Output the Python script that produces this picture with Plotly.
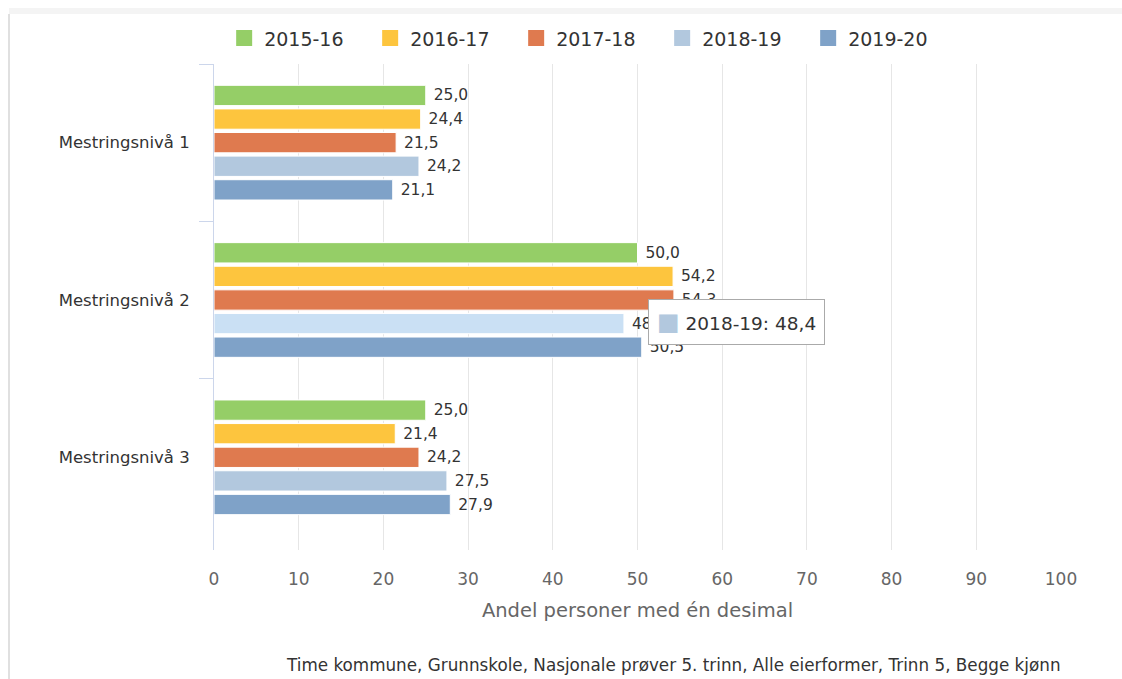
import plotly.graph_objects as go

categories = ["Mestringsnivå 1", "Mestringsnivå 2", "Mestringsnivå 3"]
series_names = ["2015-16", "2016-17", "2017-18", "2018-19", "2019-20"]
v_2015_16 = [25.0, 50.0, 25.0]
v_2016_17 = [24.4, 54.2, 21.4]
v_2017_18 = [21.5, 54.3, 24.2]
v_2018_19 = [24.2, 48.4, 27.5]
v_2019_20 = [21.1, 50.5, 27.9]
series_values = [v_2015_16, v_2016_17, v_2017_18, v_2018_19, v_2019_20]
x_ticks = [0, 10, 20, 30, 40, 50, 60, 70, 80, 90, 100]

colors = ["#95ce67", "#fdc53e", "#df7a4f", "#b2c8de", "#7fa2c8"]
hover_color = "#cae0f4"

FONT = "DejaVu Sans"

def fmt(v):
    return f"{v:.1f}".replace(".", ",")

fig = go.Figure()
for i, (name, vals) in enumerate(zip(series_names, series_values)):
    mc = [colors[i]] * len(vals)
    if name == "2018-19":
        mc[1] = hover_color
    fig.add_trace(go.Bar(
        name=name,
        y=categories,
        x=vals,
        orientation="h",
        marker=dict(color=mc, line=dict(color="#ffffff", width=1)),
        text=["\u00a0" + fmt(v) for v in vals],
        textposition="outside",
        cliponaxis=False,
        textfont=dict(family=FONT, size=15.5, color="#333333"),
        legendgroup=name,
        showlegend=False,
    ))

# legend entries with larger square symbols
for i, name in enumerate(series_names):
    fig.add_trace(go.Scatter(
        name=name, x=[None], y=[None], mode="markers",
        marker=dict(symbol="square", size=18, color=colors[i]),
        legendgroup=name, showlegend=True, hoverinfo="skip",
    ))

# tooltip as seen in the reference
fig.add_annotation(
    x=v_2018_19[1], y=categories[1], xref="x", yref="y",
    text="<span style='color:#b2c8de;font-size:24px'>■</span> 2018-19: " + fmt(v_2018_19[1]),
    showarrow=False, xanchor="left", yanchor="middle",
    xshift=24, yshift=-22,
    font=dict(family=FONT, size=18.5, color="#333333"),
    bgcolor="#ffffff", bordercolor="#aaaaaa", borderwidth=1, borderpad=8,
)

fig.add_annotation(
    text="Time kommune, Grunnskole, Nasjonale prøver 5. trinn, Alle eierformer, Trinn 5, Begge kjønn",
    xref="paper", yref="paper", x=0.543, y=-0.237, showarrow=False,
    xanchor="center", yanchor="middle",
    font=dict(family=FONT, size=16.8, color="#333333"),
)

# page frame pieces
fig.add_shape(type="rect", xref="paper", yref="paper",
              x0=-0.242, x1=1.08, y0=1.103, y1=1.115, fillcolor="#f4f4f4",
              line=dict(width=0), layer="below")
fig.add_shape(type="line", xref="paper", yref="paper",
              x0=-0.242, x1=-0.242, y0=-0.27, y1=1.103,
              line=dict(color="#e0e0e0", width=2))

fig.update_layout(
    width=1122, height=679,
    margin=dict(l=214, r=61, t=64, b=129, autoexpand=False),
    paper_bgcolor="#ffffff",
    plot_bgcolor="#ffffff",
    barmode="group",
    bargap=0.25,
    bargroupgap=0.14,
    showlegend=True,
    legend=dict(
        orientation="h", x=0.012, xanchor="left", y=1.053, yanchor="middle",
        font=dict(family=FONT, size=19, color="#333333"),
        entrywidth=101, entrywidthmode="pixels",
        itemwidth=30, itemsizing="trace", traceorder="normal",
        bgcolor="rgba(0,0,0,0)",
    ),
    font=dict(family=FONT, color="#333333"),
    xaxis=dict(
        range=[0, 100], tickvals=x_ticks, ticktext=[str(t) for t in x_ticks],
        showgrid=True, gridcolor="#e6e6e6", gridwidth=1,
        zeroline=False, showline=False,
        tickfont=dict(family=FONT, size=17, color="#666666"),
        title=dict(text="Andel personer med én desimal",
                   font=dict(family=FONT, size=19.5, color="#666666"), standoff=14),
        ticks="outside", ticklen=14, tickcolor="rgba(0,0,0,0)",
    ),
    yaxis=dict(
        categoryorder="array", categoryarray=categories,
        range=[2.5 + 14/157, -0.5],
        showline=True, linecolor="#ccd6eb", linewidth=1,
        ticks="outside", tickson="boundaries", ticklen=14, tickcolor="#ccd6eb",
        ticklabelstandoff=20,
        tickfont=dict(family=FONT, size=16.5, color="#333333"),
        showgrid=False, zeroline=False,
    ),
)

fig.write_html("out.html", config={"displayModeBar": False},
               post_script="document.body.style.margin='0';")
